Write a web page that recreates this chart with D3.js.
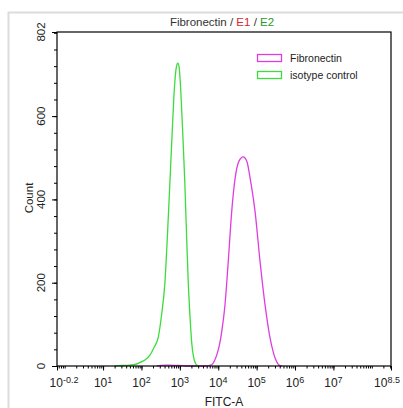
<!DOCTYPE html>
<html><head><meta charset="utf-8">
<script src="https://cdn.jsdelivr.net/npm/d3@7/dist/d3.min.js"></script>
<style>html,body{margin:0;padding:0;background:#fff}svg{display:block;font-family:"Liberation Sans",Arial,sans-serif}</style>
</head><body><svg id="c" width="403" height="408"></svg>
<script>
// ---- data (x values as log10 exponents of FITC-A intensity) ----
const xTickExps = [-0.2, 1, 2, 3, 4, 5, 6, 7, 8.5];
const xTickLabels = ["-0.2", "1", "2", "3", "4", "5", "6", "7", "8.5"];
const yTicks = [0, 200, 400, 600, 802];
const seriesNames = ["Fibronectin", "isotype control"];
const isoExp = [1.30,1.40,1.60,1.80,1.95,2.02,2.10,2.22,2.33,2.44,2.52,2.61,2.68,2.74,2.80,2.86,2.91,2.945,2.98,3.03,3.08,3.13,3.18,3.22,3.27,3.31,3.36,3.41,3.45,3.50];
const isoCount = [0,1,1.5,3,8,11,15,26,45,70,120,199,320,439,560,670,718,727,718,650,550,439,300,199,110,55,20,6,2,0];
const fibExp = [2.40,2.50,2.70,2.90,3.08,3.15,3.65,3.75,3.83,3.90,3.96,4.03,4.09,4.175,4.26,4.35,4.44,4.54,4.65,4.75,4.83,4.96,5.09,5.22,5.35,5.42,5.48,5.55,5.61,5.66];
const fibCount = [0,1.5,2,1.5,1,0,0,1,3,12,26,50,82,146,250,370,451,492,502,490,451,370,250,146,67,38,19,6,1,0];

const colors = {fib: "#e03ce0", iso: "#3cdc3c"};

const svg = d3.select("#c");
const L = 57, R = 391, T = 32, B = 366;

// outer panel border
svg.append("path").attr("d", "M8.5,408V12.5H403").attr("fill", "none").attr("stroke", "#dcdcdc").attr("stroke-width", 2);

const x = d3.scaleLog().domain([Math.pow(10, -0.2), Math.pow(10, 8.5)]).range([L, R]);
const y = d3.scaleLinear().domain([0, 802]).range([B, T]);

const line = d3.line().x(d => x(Math.pow(10, d[0]))).y(d => y(d[1])).curve(d3.curveMonotoneX);

svg.append("path").datum(fibExp.map((e, i) => [e, fibCount[i]]))
  .attr("d", line).attr("fill", "none").attr("stroke", colors.fib).attr("stroke-width", 1.3);
svg.append("path").datum(isoExp.map((e, i) => [e, isoCount[i]]))
  .attr("d", line).attr("fill", "none").attr("stroke", colors.iso).attr("stroke-width", 1.3);

// frame
svg.append("rect").attr("x", L).attr("y", T).attr("width", R - L).attr("height", B - T)
  .attr("fill", "none").attr("stroke", "#000").attr("stroke-width", 1.2);

// x minor ticks
const minor = [];
for (let d = -1; d <= 8; d++) for (let k = 1; k <= 9; k++) {
  const e = d + Math.log10(k);
  if (e >= -0.2 && e <= 8.5) minor.push(Math.pow(10, e));
}
const xMinor = d3.axisBottom(x).tickValues(minor).tickSize(2.5).tickFormat("");
const gxm = svg.append("g").attr("transform", `translate(0,${B})`).call(xMinor);
gxm.select(".domain").remove();
const xMajor = d3.axisBottom(x).tickValues(xTickExps.map(e => Math.pow(10, e))).tickSize(4.5).tickFormat("");
const gx = svg.append("g").attr("transform", `translate(0,${B})`).call(xMajor);
gx.select(".domain").remove();
svg.selectAll(".tick line").attr("stroke", "#000");

// x labels
xTickExps.forEach((e, i) => {
  let off = 0;
  if (i === 0) off = 7;
  if (i === xTickExps.length - 1) off = -4;
  const t = svg.append("text").attr("x", x(Math.pow(10, e)) + off).attr("y", B + 21)
    .attr("text-anchor", "middle").attr("font-size", 12).attr("fill", "#222");
  t.append("tspan").text("10");
  t.append("tspan").attr("dy", -4.5).attr("font-size", 9).text(xTickLabels[i]);
});

// y ticks
const yMinorVals = d3.range(0, 801, 40);
const gym = svg.append("g").attr("transform", `translate(${L},0)`).call(d3.axisLeft(y).tickValues(yMinorVals).tickSize(3).tickFormat(""));
gym.select(".domain").remove();
const gy = svg.append("g").attr("transform", `translate(${L},0)`).call(d3.axisLeft(y).tickValues(yTicks).tickSize(5).tickFormat(""));
gy.select(".domain").remove();
svg.selectAll(".tick line").attr("stroke", "#000");
yTicks.forEach(v => {
  svg.append("text").attr("transform", `translate(45,${y(v)}) rotate(-90)`)
    .attr("text-anchor", "middle").attr("font-size", 11.5).attr("fill", "#222").text(v);
});

// axis titles
svg.append("text").attr("transform", `translate(33,198) rotate(-90)`).attr("text-anchor", "middle")
  .attr("font-size", 11.5).attr("fill", "#222").text("Count");
svg.append("text").attr("x", 224).attr("y", 406).attr("text-anchor", "middle")
  .attr("font-size", 12).attr("fill", "#222").text("FITC-A");

// title
const title = svg.append("text").attr("x", 222).attr("y", 26).attr("text-anchor", "middle").attr("font-size", 11.5);
title.append("tspan").attr("fill", "#333").text("Fibronectin / ");
title.append("tspan").attr("fill", "#d42a2a").text("E1");
title.append("tspan").attr("fill", "#333").text(" / ");
title.append("tspan").attr("fill", "#2a9a2a").text("E2");

// legend
const lg = svg.append("g").attr("transform", "translate(257,54)");
[["fib", seriesNames[0]], ["iso", seriesNames[1]]].forEach((s, i) => {
  lg.append("rect").attr("x", 0.5).attr("y", i * 17 + 0.5).attr("width", 24).attr("height", 7)
    .attr("fill", "#fff").attr("stroke", colors[s[0]]).attr("stroke-width", 1.3);
  lg.append("text").attr("x", 33).attr("y", i * 17 + 8).attr("font-size", 10.5).attr("fill", "#222").text(s[1]);
});
</script></body></html>
